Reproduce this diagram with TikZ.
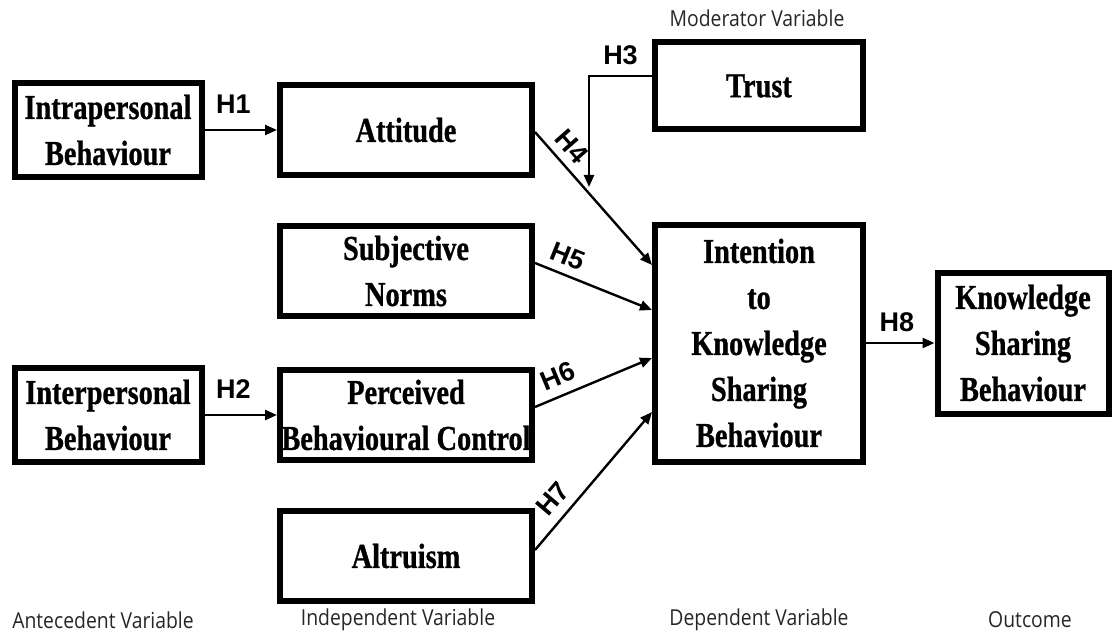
\documentclass[tikz,border=0pt]{standalone}
\usepackage{fontspec}
\setmainfont{Liberation Serif}[FakeStretch=0.81, BoldFeatures={FakeBold=0.8}]
\newfontfamily\hypfont{Liberation Sans}
\newfontfamily\tierfont{Open Sans}[FakeStretch=0.88]
\usetikzlibrary{positioning,arrows.meta}

\begin{document}
\begin{tikzpicture}[
    x = 1pt, y = -1pt,
    > = {Triangle[length=12pt, width=10pt]},
    var/.style={draw, line width=6pt, align=center, inner sep=0pt,
        font=\fontsize{35}{46}\selectfont\bfseries},
    hyp/.style={font=\hypfont\fontsize{27}{27}\selectfont\bfseries, inner sep=1pt},
    tier/.style={font=\tierfont\fontsize{22}{22}\selectfont, text=black!85},
    link/.style={->, line width=2.4pt}
]
    \useasboundingbox (0,0) rectangle (1115,639);

    % antecedents
    \node[var, minimum width=187, minimum height=94] (intra) at (108,130) {Intrapersonal\\Behaviour};
    \node[var, minimum width=187, minimum height=94] (inter) at (108,415) {Interpersonal\\Behaviour};

    % independents
    \node[var, minimum width=252, minimum height=90] (att)  at (406,130) {Attitude};
    \node[var, minimum width=252, minimum height=90] (subj) at (406,271) {Subjective\\Norms};
    \node[var, minimum width=252, minimum height=90] (pbc)  at (406,415) {Perceived\\Behavioural Control};
    \node[var, minimum width=252, minimum height=90] (alt)  at (406,556) {Altruism};

    % moderator, dependent, outcome
    \node[var, minimum width=208, minimum height=87] (trust) at (759,86) {Trust};
    \node[var, minimum width=208, minimum height=237] (intent) at (759,343) {Intention\\to\\Knowledge\\Sharing\\Behaviour};
    \node[var, minimum width=171, minimum height=141] (ksb) at (1023,343) {Knowledge\\Sharing\\Behaviour};

    \coordinate (mod) at (589,187);

    \path[link]
        (intra) edge node[hyp, above=14pt, pos=0.4] {H1} (att)
        (inter) edge node[hyp, above=14pt, pos=0.4] {H2} (pbc)
        (intent) edge node[hyp, above=9pt, pos=0.45] {H8} (ksb);

    \draw[link] ([yshift=10]trust.west) -| node[hyp, above=9pt, pos=0.25] {H3} (mod);

    \draw[link] ([yshift=-2]att.east) -- node[hyp, sloped, above=7pt, pos=0.2] {H4} ([yshift=78]intent.west);
    \draw[link] ([yshift=8]subj.east) -- node[hyp, sloped, above=7pt, pos=0.22] {H5} ([yshift=33]intent.west);
    \draw[link] ([yshift=8]pbc.east) -- node[hyp, sloped, above=8pt, pos=0.26] {H6} ([yshift=-15]intent.west);
    \draw[link] ([yshift=6]alt.east) -- node[hyp, sloped, above=8pt, pos=0.28] {H7} ([yshift=-69]intent.west);

    % column captions
    \node[tier] (modcap) at (757,18) {Moderator Variable};
    \node[tier] (antcap) at (103,620) {Antecedent Variable};
    \node[tier] (indcap) at (398,620) {Independent Variable};
    \node[tier] (depcap) at (759,620) {Dependent Variable};
    \node[tier] (outcap) at (1030,620) {Outcome};
\end{tikzpicture}
\end{document}
